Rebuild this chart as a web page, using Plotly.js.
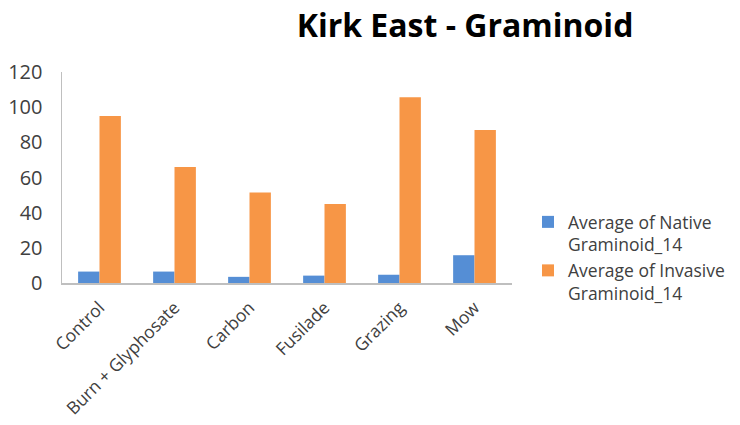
<!DOCTYPE html>
<html><head><meta charset="utf-8">
<script src="https://cdn.plot.ly/plotly-3.0.1.min.js"></script>
<style>body{margin:0;}#chart{width:740px;height:425px;}</style>
</head><body><div id="chart"></div>
<script>
const categories = ["Control", "Burn + Glyphosate", "Carbon", "Fusilade", "Grazing", "Mow"];
const nativeValues = [6.5, 6.5, 3.5, 4.2, 4.7, 15.8];
const invasiveValues = [95.0, 66.0, 51.4, 44.9, 105.6, 87.0];
const seriesNames = ["Average of Native<br>Graminoid_14", "Average of Invasive<br>Graminoid_14"];
const yTicks = [0, 20, 40, 60, 80, 100, 120];

const font = "Open Sans, Noto Sans, sans-serif";
const traces = [
  {type: "bar", x: categories, y: nativeValues, name: seriesNames[0], marker: {color: "#558ED5"}},
  {type: "bar", x: categories, y: invasiveValues, name: seriesNames[1], marker: {color: "#F79646"}}
];
const layout = {
  width: 740, height: 425,
  margin: {l: 62, r: 228, t: 72, b: 142},
  paper_bgcolor: "#ffffff", plot_bgcolor: "#ffffff",
  font: {family: font, color: "#404040", size: 18},
  title: {text: "<b>Kirk East - Graminoid</b>", x: 465/740, xanchor: "center", xref: "container",
          y: 1 - 26/425, yanchor: "middle", yref: "container",
          font: {family: font, size: 32, color: "#000000"}},
  barmode: "group", bargap: 0.43, bargroupgap: 0,
  xaxis: {tickangle: -45, showline: true, linecolor: "#BFBFBF", linewidth: 1.5, ticks: "",
          ticklabelstandoff: 6, tickfont: {size: 17.5, color: "#404040"}, showgrid: false},
  yaxis: {range: [0, 120], tickvals: yTicks, showline: true, linecolor: "#BFBFBF", linewidth: 1.5,
          showgrid: false, zeroline: false, ticks: "", ticklabelstandoff: 14,
          tickfont: {size: 20, color: "#404040"}},
  legend: {x: 528/740, xref: "container", xanchor: "left", y: 1 - 204/425, yref: "container", yanchor: "top",
           font: {size: 17.5, color: "#404040"}, tracegroupgap: 0, traceorder: "normal", valign: "top"},
  showlegend: true
};
Plotly.newPlot("chart", traces, layout, {displayModeBar: false, staticPlot: true});
</script></body></html>
